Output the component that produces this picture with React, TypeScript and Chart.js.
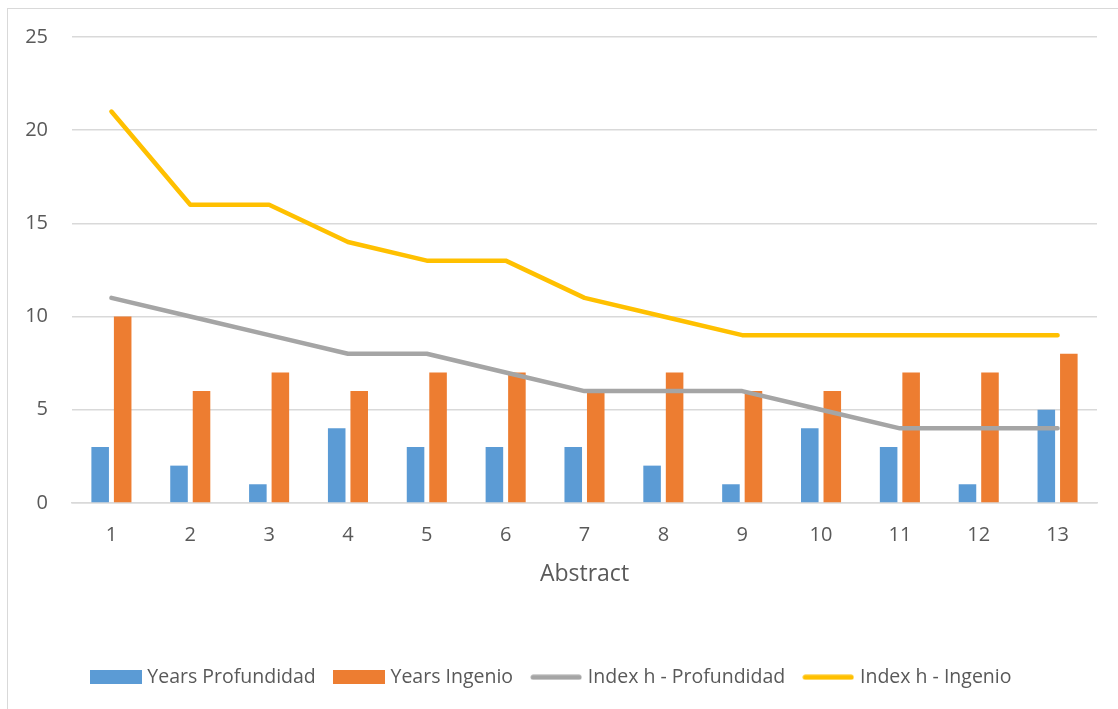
import React, { useEffect, useRef } from 'react';
import { Chart, registerables } from 'chart.js';

Chart.register(...registerables);

const categories = ['1', '2', '3', '4', '5', '6', '7', '8', '9', '10', '11', '12', '13'];
const yearsProfundidad = [3, 2, 1, 4, 3, 3, 3, 2, 1, 4, 3, 1, 5];
const yearsIngenio = [10, 6, 7, 6, 7, 7, 6, 7, 6, 6, 7, 7, 8];
const indexProfundidad = [11, 10, 9, 8, 8, 7, 6, 6, 6, 5, 4, 4, 4];
const indexIngenio = [21, 16, 16, 14, 13, 13, 11, 10, 9, 9, 9, 9, 9];
const yTicks = [0, 5, 10, 15, 20, 25];
const seriesLabels = ['Years Profundidad', 'Years Ingenio', 'Index h - Profundidad', 'Index h - Ingenio'];
const xTitle = 'Abstract';

const BLUE = '#5b9bd5';
const ORANGE = '#ed7d31';
const GRAY = '#a5a5a5';
const YELLOW = '#ffc000';
const TEXT = '#595959';
const GRID = '#d9d9d9';
const FONT = "'Open Sans', 'Noto Sans', sans-serif";

function swatch(color: string, kind: 'bar' | 'line'): HTMLCanvasElement {
  const c = document.createElement('canvas');
  c.width = 52;
  c.height = kind === 'bar' ? 14 : 6;
  const ctx = c.getContext('2d')!;
  if (kind === 'bar') {
    ctx.fillStyle = color;
    ctx.fillRect(0, 0, 52, 14);
  } else {
    ctx.strokeStyle = color;
    ctx.lineWidth = 5;
    ctx.lineCap = 'round';
    ctx.beginPath();
    ctx.moveTo(3, 3);
    ctx.lineTo(49, 3);
    ctx.stroke();
  }
  return c;
}

export default function App() {
  const ref = useRef<HTMLCanvasElement | null>(null);

  useEffect(() => {
    if (!ref.current) return;
    const swatches = [swatch(BLUE, 'bar'), swatch(ORANGE, 'bar'), swatch(GRAY, 'line'), swatch(YELLOW, 'line')];
    const colors = [BLUE, ORANGE, GRAY, YELLOW];
    const chart = new Chart(ref.current, {
      type: 'bar',
      data: {
        labels: categories,
        datasets: [
          {
            type: 'bar',
            label: seriesLabels[0],
            data: yearsProfundidad,
            backgroundColor: BLUE,
            categoryPercentage: 0.571,
            barPercentage: 0.78,
            order: 1,
          },
          {
            type: 'bar',
            label: seriesLabels[1],
            data: yearsIngenio,
            backgroundColor: ORANGE,
            categoryPercentage: 0.571,
            barPercentage: 0.78,
            order: 1,
          },
          {
            type: 'line',
            label: seriesLabels[2],
            data: indexProfundidad,
            borderColor: GRAY,
            backgroundColor: GRAY,
            borderWidth: 4.5,
            pointRadius: 0,
            borderCapStyle: 'round',
            borderJoinStyle: 'round',
            tension: 0,
            order: 0,
          },
          {
            type: 'line',
            label: seriesLabels[3],
            data: indexIngenio,
            borderColor: YELLOW,
            backgroundColor: YELLOW,
            borderWidth: 4.5,
            pointRadius: 0,
            borderCapStyle: 'round',
            borderJoinStyle: 'round',
            tension: 0,
            order: 0,
          },
        ],
      } as any,
      options: {
        animation: false,
        responsive: false,
        maintainAspectRatio: false,
        layout: { padding: { top: 28, right: 21, bottom: 12, left: 0 } },
        plugins: {
          tooltip: { enabled: false },
          legend: {
            position: 'bottom',
            labels: {
              usePointStyle: true,
              pointStyleWidth: 44,
              boxHeight: 14,
              padding: 21,
              color: TEXT,
              font: { family: FONT, size: 19.5 },
              generateLabels: (ch: any) =>
                ch.data.datasets.map((ds: any, i: number) => ({
                  text: ds.label,
                  fillStyle: colors[i],
                  strokeStyle: colors[i],
                  lineWidth: 0,
                  pointStyle: swatches[i],
                  rotation: 0,
                  hidden: false,
                  datasetIndex: i,
                  fontColor: TEXT,
                })),
            },
          },
        },
        scales: {
          x: {
            offset: true,
            grid: { display: false, drawTicks: false },
            border: { display: true, color: GRID, width: 1.5 },
            ticks: { color: TEXT, font: { family: FONT, size: 20 }, padding: 20, maxRotation: 0 },
            title: {
              display: true,
              text: xTitle,
              color: TEXT,
              font: { family: FONT, size: 23 },
              padding: { top: -6, bottom: 58 },
            },
          },
          y: {
            min: 0,
            max: 25,
            afterBuildTicks: (s: any) => {
              s.ticks = yTicks.map((v) => ({ value: v }));
            },
            afterFit: (s: any) => {
              s.width = 64;
              s.paddingTop = 0;
              s.paddingBottom = 0;
            },
            grid: { color: GRID, lineWidth: 1.5, drawTicks: false },
            border: { display: false },
            ticks: { color: TEXT, font: { family: FONT, size: 20 }, padding: 24 },
          },
        },
      } as any,
    });
    return () => chart.destroy();
  }, []);

  return (
    <div
      style={{
        position: 'absolute',
        left: 7,
        top: 8,
        width: 1111,
        height: 701,
        borderLeft: '1px solid #d9d9d9',
        borderTop: '1px solid #d9d9d9',
        boxSizing: 'border-box',
        overflow: 'hidden',
        background: '#fff',
      }}
    >
      <canvas ref={ref} width={1110} height={700} style={{ display: 'block', width: 1110, height: 700 }} />
    </div>
  );
}
